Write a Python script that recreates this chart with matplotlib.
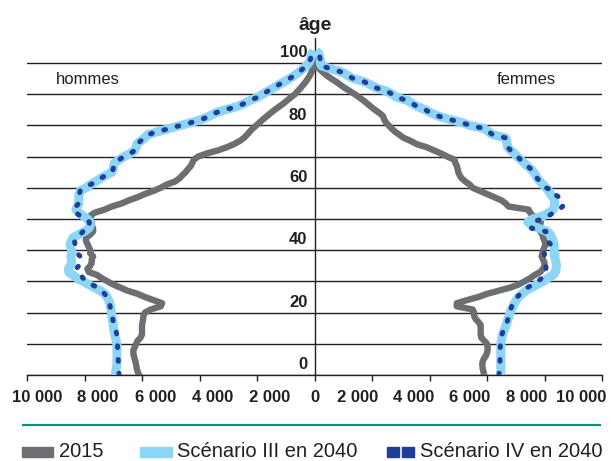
import matplotlib
matplotlib.use('Agg')
import matplotlib.pyplot as plt
from matplotlib.patches import Rectangle
from matplotlib.lines import Line2D
from matplotlib.ticker import FuncFormatter
from matplotlib.transforms import ScaledTranslation

plt.rcParams['font.family'] = ['Liberation Sans', 'DejaVu Sans']

# ages (one value per year)
ages_2015 = list(range(0, 101))
ages_2040 = list(range(0, 105))

hommes_2015 = [
    6100, 6150, 6180, 6200, 6220, 6250, 6280, 6300, 6300, 6250,
    6200, 6150, 6050, 6000, 6000, 6000, 6000, 5980, 5960, 5950,
    5900, 5700, 5350, 5300, 5600, 5900, 6150, 6500, 6750, 7000,
    7200, 7400, 7550, 7850, 7900, 7800, 7750, 7750, 7700, 7800,
    7800, 7850, 7900, 7950, 7950, 7800, 7700, 7700, 7750, 7750,
    7800, 7800, 7650, 7300, 7050, 6700, 6450, 6150, 5900, 5600,
    5350, 5150, 4850, 4700, 4600, 4480, 4400, 4300, 4250, 4200,
    4050, 3750, 3350, 3050, 2800, 2600, 2450, 2350, 2250, 2150,
    2020, 1900, 1780, 1650, 1520, 1380, 1230, 1080, 950, 820,
    680, 580, 480, 390, 300, 230, 160, 110, 70, 30, 10]

femmes_2015 = [
    5900, 5880, 5850, 5840, 5840, 5880, 5950, 6000, 6020, 6020,
    6000, 5900, 5800, 5780, 5780, 5780, 5780, 5700, 5600, 5550,
    5550, 5500, 4950, 4950, 5300, 5700, 6000, 6400, 6800, 7100,
    7300, 7500, 7650, 7850, 7950, 8000, 8000, 7950, 7900, 7930,
    7950, 8000, 8050, 8000, 7950, 7930, 7850, 7800, 7850, 7870,
    7800, 7600, 7500, 7450, 6750, 6650, 6500, 6250, 6000, 5750,
    5500, 5400, 5250, 5120, 5050, 5000, 4980, 4950, 4900, 4870,
    4620, 4400, 4150, 3900, 3550, 3350, 3100, 2950, 2800, 2680,
    2580, 2480, 2420, 2380, 2250, 2100, 1960, 1830, 1700, 1550,
    1400, 1230, 1050, 900, 750, 580, 420, 300, 180, 80, 20]

hommes_sc3 = [
    6930, 6920, 6900, 6880, 6870, 6870, 6870, 6870, 6870, 6870,
    6880, 6900, 6930, 6950, 6970, 6990, 7000, 7020, 7030, 7050,
    7060, 7080, 7100, 7120, 7160, 7220, 7300, 7450, 7650, 7850,
    8050, 8250, 8400, 8550, 8560, 8500, 8450, 8450, 8480, 8450,
    8450, 8480, 8500, 8450, 8400, 8200, 8000, 7850, 7800, 7800,
    7900, 8050, 8200, 8300, 8250, 8200, 8200, 8200, 8180, 8150,
    7950, 7800, 7600, 7450, 7250, 7050, 7000, 6990, 6950, 6800,
    6620, 6400, 6250, 6200, 6180, 6050, 5900, 5800, 5450, 5050,
    4650, 4250, 3900, 3650, 3450, 3100, 2700, 2450, 2250, 1980,
    1800, 1620, 1420, 1250, 1050, 870, 700, 550, 420, 300,
    200, 150, 120, 80, 30]

hommes_sc4 = [
    6800, 6800, 6800, 6810, 6820, 6830, 6840, 6850, 6850, 6850,
    6850, 6860, 6870, 6880, 6900, 6950, 6990, 7000, 7020, 7050,
    7070, 7090, 7110, 7130, 7160, 7220, 7300, 7420, 7550, 7750,
    7900, 8050, 8120, 8250, 8290, 8200, 8100, 8100, 8150, 8250,
    8270, 8300, 8330, 8350, 8300, 8150, 8050, 7850, 7830, 7830,
    7950, 8150, 8300, 8400, 8300, 8200, 8180, 8180, 8180, 8150,
    7950, 7800, 7600, 7450, 7250, 7050, 7000, 6990, 6950, 6800,
    6620, 6400, 6250, 6200, 6180, 6050, 5900, 5800, 5450, 5050,
    4650, 4250, 3900, 3650, 3450, 3100, 2700, 2450, 2250, 1980,
    1800, 1620, 1420, 1250, 1050, 870, 700, 550, 420, 300,
    200, 150, 120, 80, 30]

femmes_sc3 = [
    6480, 6480, 6480, 6480, 6480, 6480, 6480, 6480, 6480, 6480,
    6480, 6500, 6520, 6540, 6580, 6620, 6660, 6700, 6730, 6770,
    6800, 6850, 6900, 6950, 7020, 7100, 7220, 7350, 7550, 7750,
    7950, 8100, 8300, 8380, 8400, 8420, 8400, 8380, 8350, 8340,
    8340, 8340, 8330, 8300, 8250, 8200, 8100, 7800, 7550, 7420,
    7600, 7950, 8150, 8300, 8350, 8350, 8350, 8300, 8200, 8150,
    8050, 7950, 7850, 7750, 7700, 7620, 7530, 7400, 7280, 7170,
    7050, 6950, 6820, 6720, 6700, 6680, 6650, 6200, 6050, 5900,
    5400, 5100, 4650, 4300, 4050, 3850, 3580, 3400, 3230, 2850,
    2700, 2500, 2150, 1950, 1720, 1350, 1150, 970, 620, 250,
    200, 200, 180, 150, 50]

femmes_sc4 = [
    6420, 6420, 6430, 6440, 6450, 6450, 6450, 6460, 6460, 6460,
    6470, 6480, 6500, 6520, 6560, 6620, 6660, 6700, 6730, 6770,
    6790, 6820, 6860, 6890, 6950, 7050, 7160, 7280, 7400, 7600,
    7760, 7900, 8000, 8050, 8050, 8050, 8050, 8020, 8000, 7990,
    8100, 8220, 8200, 8100, 8050, 8050, 8050, 7550, 7530, 7550,
    7930, 8150, 8300, 8500, 8630, 8630, 8630, 8500, 8350, 8340,
    8050, 7950, 7850, 7750, 7700, 7620, 7530, 7400, 7280, 7170,
    7050, 6950, 6820, 6720, 6700, 6680, 6650, 6200, 6050, 5900,
    5400, 5100, 4650, 4300, 4050, 3850, 3580, 3400, 3230, 2850,
    2700, 2500, 2150, 1950, 1720, 1350, 1150, 970, 620, 250,
    200, 200, 180, 150, 50]

series_labels = ['2015', 'Scénario III en 2040', 'Scénario IV en 2040']
age_labels = [0, 20, 40, 60, 80, 100]
x_ticks = list(range(-10000, 10001, 2000))

# the original squeezes the x labels towards the centre (pixels)
label_shift = [10, 13, 14, 13.5, 13, 0, -14.5, -15.5, -17, -17.5, -21]

c_2015 = '#6d6e71'
c_sc3 = '#8dd5f5'
c_sc4 = '#1f3d99'
c_text = '#231f20'
c_green = '#00967a'

W, H = 612, 461
fig = plt.figure(figsize=(W / 100, H / 100), dpi=100)
ax = fig.add_axes([27 / W, 86 / H, 575 / W, 337 / H])

# 2015
ax.plot([-v for v in hommes_2015], ages_2015, color=c_2015, lw=4.6, zorder=3)
ax.plot(femmes_2015, ages_2015, color=c_2015, lw=4.6, zorder=3)
# scenario III
ax.plot([-v for v in hommes_sc3], ages_2040, color=c_sc3, lw=6.5, zorder=4,
        solid_capstyle='butt')
ax.plot(femmes_sc3, ages_2040, color=c_sc3, lw=6.5, zorder=4,
        solid_capstyle='butt')
# scenario IV (dotted)
dots = (0, (0.35, 2.4))
ax.plot([-v for v in hommes_sc4], ages_2040, color=c_sc4, lw=3.6, zorder=5,
        linestyle=dots, dash_capstyle='round')
ax.plot(femmes_sc4, ages_2040, color=c_sc4, lw=3.6, zorder=5,
        linestyle=dots, dash_capstyle='round')

ax.set_xlim(-10000, 10000)
ax.set_ylim(0, 108)
ax.axvline(0, color=c_text, lw=1, zorder=2)

ax.set_yticks(range(0, 101, 10))
ax.yaxis.grid(True, color=c_text, lw=1)
ax.set_axisbelow(True)
ax.tick_params(axis='y', length=0, labelleft=False)

ax.set_xticks(x_ticks)
ax.xaxis.set_major_formatter(
    FuncFormatter(lambda v, p: '{:,}'.format(int(abs(v))).replace(',', ' ')))
ax.tick_params(axis='x', direction='out', length=4, width=1, color=c_text,
               pad=7, labelsize=12, labelcolor=c_text)
for lbl, dx in zip(ax.get_xticklabels(), label_shift):
    lbl.set_fontweight('bold')
    lbl.set_transform(lbl.get_transform() +
                      ScaledTranslation(dx / 100, 0, fig.dpi_scale_trans))

for s in ['left', 'right', 'top']:
    ax.spines[s].set_visible(False)
ax.spines['bottom'].set_color(c_text)
ax.spines['bottom'].set_linewidth(1)

for a in age_labels:
    ax.text(-250, a + 3.3, str(a), ha='right', va='center', fontsize=12,
            fontweight='bold', color=c_text)

ax.text(-7900, 94.8, 'hommes', ha='center', va='center', fontsize=12,
        color=c_text)
ax.text(7380, 94.6, 'femmes', ha='center', va='center', fontsize=12,
        color=c_text)
fig.text(315 / W, 1 - 26 / H, 'âge', ha='center', va='center', fontsize=14,
         fontweight='bold', color=c_text)

# separator line
fig.add_artist(Line2D([23 / W, 600 / W], [1 - 425 / H, 1 - 425 / H],
                      color=c_green, lw=1.6, transform=fig.transFigure))

# legend (drawn by hand to mimic the original)
ty = 1 - 451 / H
fig.add_artist(Rectangle((22 / W, 4 / H), 31 / W, 10 / H, color=c_2015,
                         transform=fig.transFigure))
fig.text(59 / W, ty, series_labels[0], ha='left', va='center', fontsize=14.5,
         color=c_text)
fig.add_artist(Rectangle((140 / W, 4 / H), 32 / W, 10 / H, color=c_sc3,
                         transform=fig.transFigure))
fig.text(177 / W, ty, series_labels[1], ha='left', va='center', fontsize=14.5,
         color=c_text)
fig.add_artist(Rectangle((387 / W, 4 / H), 12 / W, 10 / H, color=c_sc4,
                         transform=fig.transFigure))
fig.add_artist(Rectangle((402 / W, 4 / H), 12 / W, 10 / H, color=c_sc4,
                         transform=fig.transFigure))
fig.text(420 / W, ty, series_labels[2], ha='left', va='center', fontsize=14.5,
         color=c_text)

fig.savefig('out.png', dpi=100)
